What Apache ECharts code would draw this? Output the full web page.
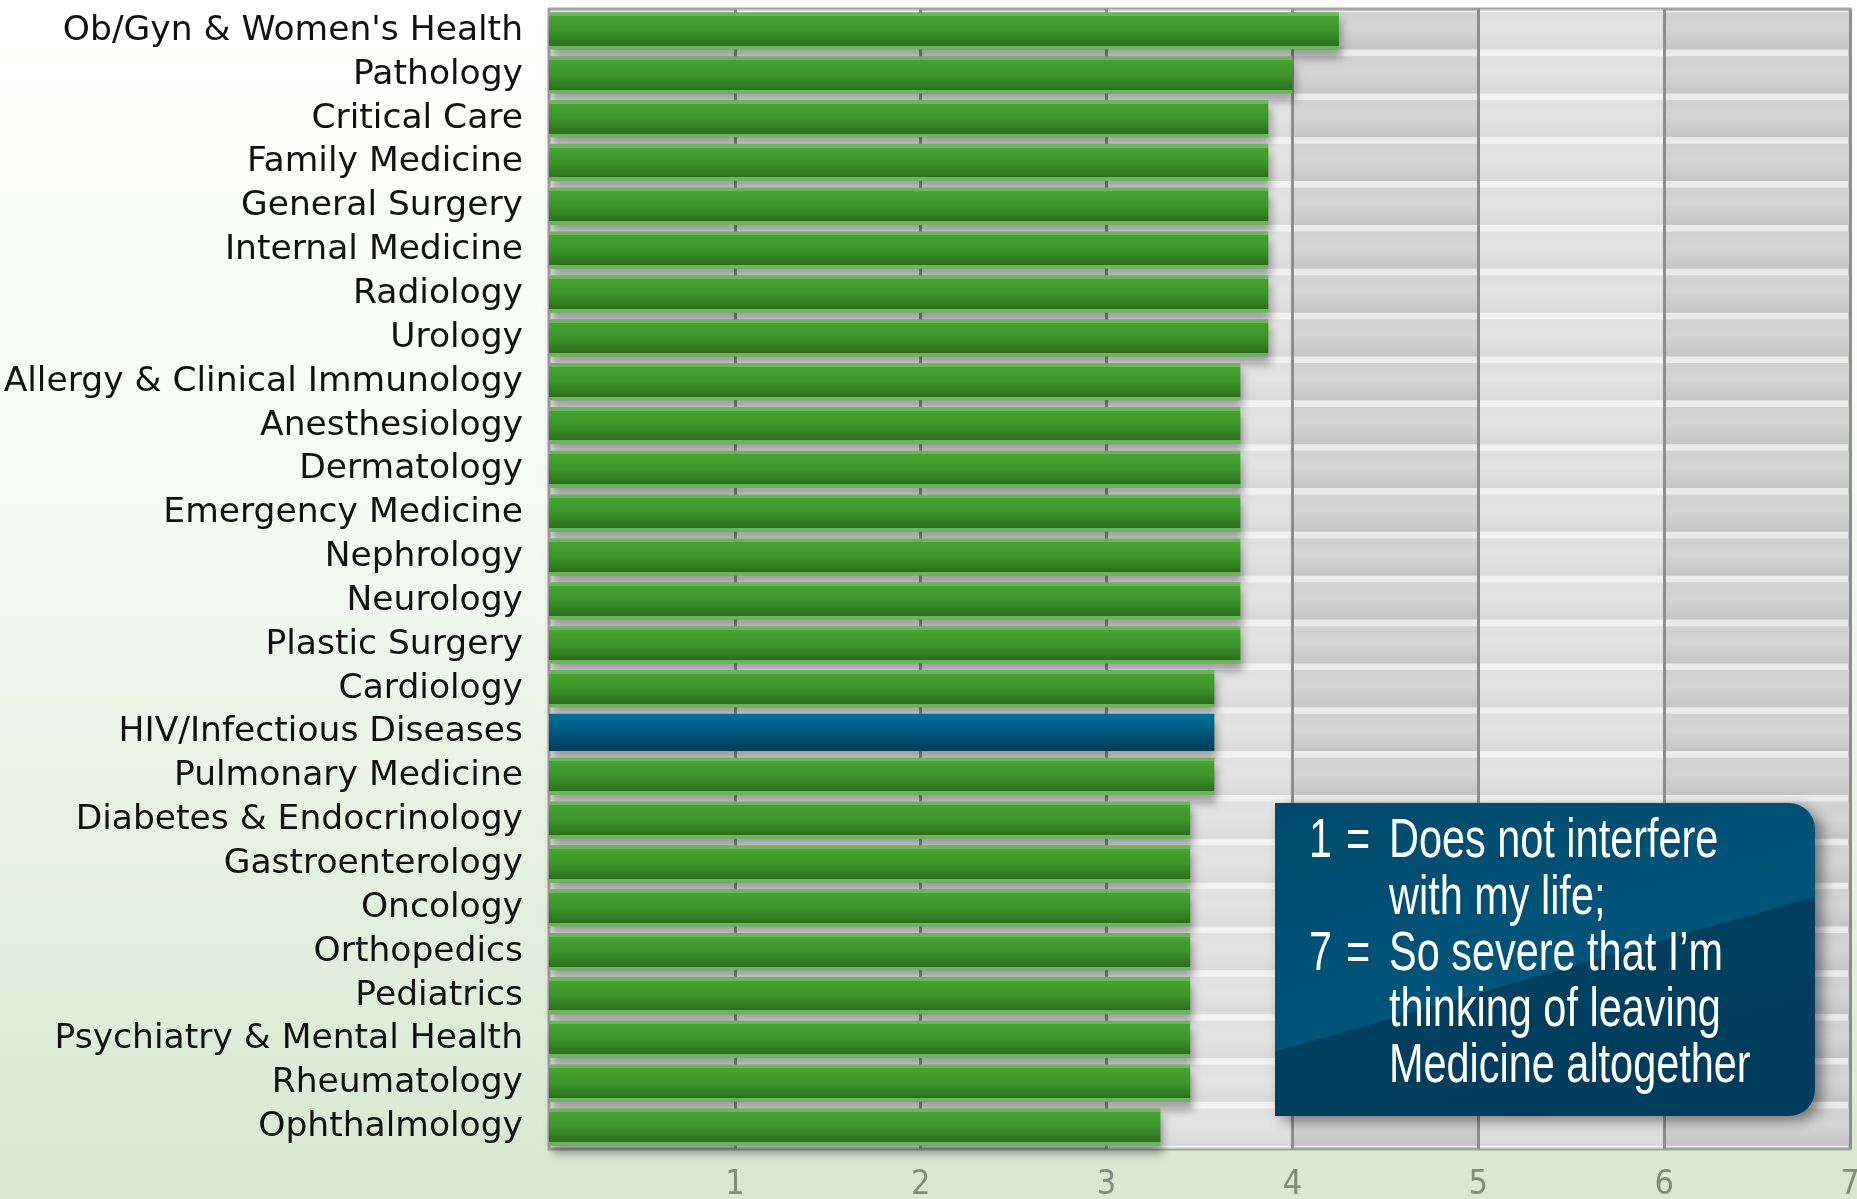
<!DOCTYPE html>
<html>
<head>
<meta charset="utf-8">
<script src="https://cdn.jsdelivr.net/npm/echarts@6/dist/echarts.min.js"></script>
<style>
  html, body { margin: 0; padding: 0; width: 1857px; height: 1199px; overflow: hidden; }
  #main { width: 1857px; height: 1199px; }
</style>
</head>
<body>
<div id="main"></div>
<script>
const categories = [
  "Ob/Gyn & Women's Health", "Pathology", "Critical Care", "Family Medicine",
  "General Surgery", "Internal Medicine", "Radiology", "Urology",
  "Allergy & Clinical Immunology", "Anesthesiology", "Dermatology",
  "Emergency Medicine", "Nephrology", "Neurology", "Plastic Surgery",
  "Cardiology", "HIV/Infectious Diseases", "Pulmonary Medicine",
  "Diabetes & Endocrinology", "Gastroenterology", "Oncology", "Orthopedics",
  "Pediatrics", "Psychiatry & Mental Health", "Rheumatology", "Ophthalmology"
];
const values = [
  4.25, 4.0, 3.87, 3.87,
  3.87, 3.87, 3.87, 3.87,
  3.72, 3.72, 3.72,
  3.72, 3.72, 3.72, 3.72,
  3.58, 3.58, 3.58,
  3.45, 3.45, 3.45, 3.45,
  3.45, 3.45, 3.45, 3.29
];
const highlighted = "HIV/Infectious Diseases";
const axisMin = 0, axisMax = 7, axisStep = 1;
const legendLines = [
  ["1", "=", "Does not interfere"],
  ["", "", "with my life;"],
  ["7", "=", "So severe that I\u2019m"],
  ["", "", "thinking of leaving"],
  ["", "", "Medicine altogether"]
];

const G = echarts.graphic.LinearGradient;
const greenFill = new G(0, 0, 0, 1, [
  { offset: 0, color: '#6cb45d' }, { offset: 0.1, color: '#6cb45d' },
  { offset: 0.1, color: '#47a331' }, { offset: 0.5, color: '#3d942b' },
  { offset: 0.9, color: '#2b6e1b' },
  { offset: 0.9, color: '#6cb45d' }, { offset: 1, color: '#6cb45d' }
]);
const blueFill = new G(0, 0, 0, 1, [
  { offset: 0, color: '#00739d' }, { offset: 1, color: '#003b5a' }
]);
const bandFill = new G(0, 0, 0, 1, [
  { offset: 0, color: '#d1d1d1' }, { offset: 0.45, color: '#d5d5d5' },
  { offset: 1, color: '#c5c5c5' }
]);

const barData = values.map((v, i) => ({
  value: v,
  itemStyle: { color: categories[i] === highlighted ? blueFill : greenFill }
}));

const legendGraphics = [];
const lx = 1275, ly = 803, lw = 540, lh = 313;
legendGraphics.push({
  type: 'rect',
  shape: { x: lx, y: ly, width: lw, height: lh, r: [0, 26, 26, 0] },
  style: {
    fill: new G(0, 0, 0.23, 1.382, [
      { offset: 0, color: '#004a6c' }, { offset: 0.53, color: '#00547a' },
      { offset: 0.532, color: '#003f5f' }, { offset: 1, color: '#003c5b' }
    ]),
    shadowBlur: 14, shadowOffsetX: 7, shadowOffsetY: 5, shadowColor: 'rgba(0,0,0,0.45)'
  },
  z: 50
});
const lineY = [842, 899, 955, 1011, 1067];
legendLines.forEach((ln, i) => {
  const cols = [1309, 1346, 1389];
  ln.forEach((t, j) => {
    if (!t) return;
    legendGraphics.push({
      type: 'text', z: 51,
      x: cols[j], y: lineY[i], scaleX: 0.74,
      style: {
        text: t, fill: '#ffffff', font: "56px 'Liberation Sans', sans-serif",
        verticalAlign: 'middle', align: 'left'
      }
    });
  });
});

const chart = echarts.init(document.getElementById('main'));
chart.setOption({
  animation: false,
  backgroundColor: new G(0, 0, 0, 1, [
    { offset: 0, color: '#ffffff' }, { offset: 0.4, color: '#f7fbf5' },
    { offset: 1, color: '#d7e9d0' }
  ]),
  grid: {
    left: 549, right: 7, top: 9, bottom: 50,
    outerBoundsMode: 'none',
    containLabel: false,
    show: true,
    backgroundColor: '#ebebeb',
    borderColor: '#a2a2a2', borderWidth: 3
  },
  xAxis: {
    type: 'value', min: axisMin, max: axisMax, interval: axisStep,
    z: 2,
    axisLine: { show: false }, axisTick: { show: false },
    splitLine: { show: true, showMinLine: false, lineStyle: { color: '#8e8e8e', width: 3 } },
    splitArea: { show: true, areaStyle: { color: ['rgba(255,255,255,0)', 'rgba(255,255,255,0.35)'] } },
    axisLabel: {
      showMinLabel: false, margin: 19,
      color: '#7f8d7f', fontFamily: "'DejaVu Sans Condensed', sans-serif", fontSize: 34
    }
  },
  yAxis: {
    type: 'category', data: categories, inverse: true,
    axisLine: { show: false }, axisTick: { show: false },
    axisLabel: { interval: 0, color: '#111111', fontFamily: 'DejaVu Sans', fontSize: 34.5, margin: 26 }
  },
  series: [
    {
      type: 'bar', data: values, z: 1, silent: true,
      barCategoryGap: '15%', barGap: '-100%',
      itemStyle: { color: 'rgba(0,0,0,0)' },
      showBackground: true,
      backgroundStyle: { color: bandFill }
    },
    {
      type: 'bar', data: barData, z: 3,
      barCategoryGap: '15%', barGap: '-100%',
      itemStyle: {
        shadowColor: 'rgba(0,0,0,0.33)', shadowBlur: 8,
        shadowOffsetX: 3, shadowOffsetY: 8
      }
    }
  ],
  graphic: legendGraphics
});
</script>
</body>
</html>
